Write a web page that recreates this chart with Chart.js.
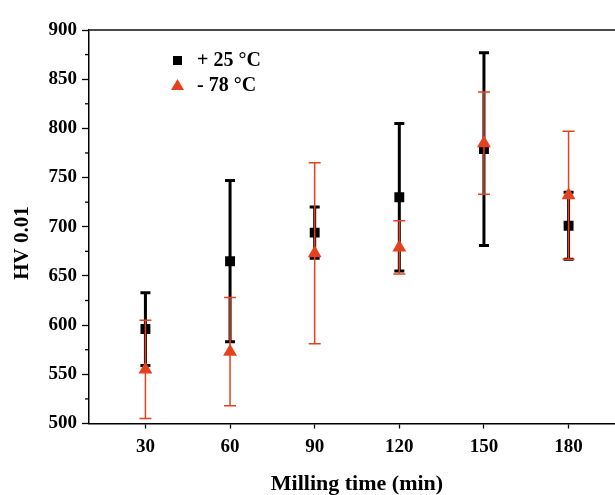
<!DOCTYPE html>
<html>
<head>
<meta charset="utf-8">
<script src="https://cdn.jsdelivr.net/npm/chart.js@4/dist/chart.umd.min.js"></script>
<style>
  html, body { margin: 0; padding: 0; background: #fff; overflow: hidden; }
  #wrap { width: 640px; height: 495px; }
</style>
</head>
<body>
<div id="wrap"><canvas id="chart" width="640" height="495"></canvas></div>
<script>
// values
const millingTimes = [30, 60, 90, 120, 150, 180];
const hv25 = [596, 665, 694, 730, 779, 701];
const err25 = [37, 82, 26, 75, 98, 34];
const hv78 = [555, 573, 673, 679, 785, 732];
const err78 = [50, 55, 92, 27, 52, 65];
const yTicks = [500, 550, 600, 650, 700, 750, 800, 850, 900];
const seriesLabels = ['+ 25 °C', '- 78 °C'];
const yTitle = 'HV 0.01';

const RED = '#e4421f';
const serif = "'Liberation Serif', 'Times New Roman', serif";

const toPoints = (xs, ys, es) => xs.map((x, i) => ({ x: x, y: ys[i], err: es[i] }));

// error bars drawn under each dataset's markers
const errorBars = {
  id: 'errorBars',
  beforeDatasetDraw(chart, args) {
    const ds = chart.data.datasets[args.index];
    const { ctx } = chart;
    const xs = chart.scales.x, ys = chart.scales.y;
    ctx.save();
    ctx.strokeStyle = ds.barColor;
    ctx.lineWidth = ds.barWidth;
    ds.data.forEach(p => {
      const px = xs.getPixelForValue(p.x);
      const top = ys.getPixelForValue(p.y + p.err);
      const bot = ys.getPixelForValue(p.y - p.err);
      ctx.beginPath();
      ctx.moveTo(px, top); ctx.lineTo(px, bot);
      ctx.moveTo(px - ds.capHalf, top); ctx.lineTo(px + ds.capHalf, top);
      ctx.moveTo(px - ds.capHalf, bot); ctx.lineTo(px + ds.capHalf, bot);
      ctx.stroke();
    });
    ctx.restore();
  }
};

// top frame line, minor y ticks, y title and the inside legend
const frame = {
  id: 'frame',
  afterDraw(chart) {
    const { ctx, chartArea: a } = chart;
    const ys = chart.scales.y;
    ctx.save();
    ctx.strokeStyle = '#4a4a4a';
    ctx.lineWidth = 2;
    ctx.beginPath();
    ctx.moveTo(a.left, a.top); ctx.lineTo(a.right, a.top);
    ctx.stroke();

    ctx.strokeStyle = '#000';
    ctx.lineWidth = 1.3;
    for (let v = 525; v < 900; v += 50) {
      const py = ys.getPixelForValue(v);
      ctx.beginPath();
      ctx.moveTo(a.left - 4, py); ctx.lineTo(a.left, py);
      ctx.stroke();
    }

    // y axis title, sits a bit below the middle in the original
    ctx.save();
    ctx.translate(23, 243);
    ctx.rotate(-Math.PI / 2);
    ctx.fillStyle = '#000';
    ctx.font = 'bold 21px ' + serif;
    ctx.textAlign = 'center';
    ctx.textBaseline = 'middle';
    ctx.fillText(yTitle, 0, 0);
    ctx.restore();

    // legend
    ctx.fillStyle = '#000';
    ctx.fillRect(173, 56, 9, 9);
    ctx.fillStyle = RED;
    ctx.beginPath();
    ctx.moveTo(177.5, 79); ctx.lineTo(184, 90); ctx.lineTo(171, 90);
    ctx.closePath(); ctx.fill();
    ctx.fillStyle = '#000';
    ctx.font = 'bold 20px ' + serif;
    ctx.textBaseline = 'middle';
    ctx.fillText(seriesLabels[0], 197, 61);
    ctx.fillText(seriesLabels[1], 197, 86);
    ctx.restore();
  }
};

new Chart(document.getElementById('chart'), {
  type: 'scatter',
  data: {
    datasets: [
      {
        label: seriesLabels[0],
        data: toPoints(millingTimes, hv25, err25),
        pointStyle: 'rect',
        pointRadius: 7,
        backgroundColor: '#000',
        borderColor: '#000',
        borderWidth: 0,
        barColor: '#000',
        barWidth: 3,
        capHalf: 5,
        order: 2
      },
      {
        label: seriesLabels[1],
        data: toPoints(millingTimes, hv78, err78),
        pointStyle: 'triangle',
        pointRadius: 8,
        backgroundColor: RED,
        borderColor: RED,
        borderWidth: 0,
        barColor: RED,
        barWidth: 1.5,
        capHalf: 6,
        order: 1
      }
    ]
  },
  options: {
    responsive: false,
    animation: false,
    layout: { padding: { top: 30, right: 15, left: 0, bottom: 0 } },
    plugins: {
      legend: { display: false },
      tooltip: { enabled: false }
    },
    scales: {
      x: {
        type: 'linear',
        min: 10,
        max: 200,
        afterBuildTicks: scale => { scale.ticks = millingTimes.map(v => ({ value: v })); },
        afterFit: scale => { scale.height = 71.5; },
        border: { color: '#000', width: 1.5 },
        grid: { drawOnChartArea: false, tickLength: 5, tickColor: '#000', tickWidth: 1.3 },
        ticks: { color: '#000', padding: 7, font: { family: serif, size: 19, weight: 'bold' } },
        title: {
          display: true,
          text: 'Milling time (min)',
          color: '#000',
          padding: { top: 0, bottom: 0 },
          font: { family: serif, size: 22, weight: 'bold', lineHeight: 1 }
        }
      },
      y: {
        min: 500,
        max: 900,
        afterBuildTicks: scale => { scale.ticks = yTicks.map(v => ({ value: v })); },
        afterFit: scale => { scale.width = 89; },
        border: { color: '#000', width: 1.5 },
        grid: { drawOnChartArea: false, tickLength: 7, tickColor: '#000', tickWidth: 1.3 },
        ticks: { color: '#000', padding: 5, font: { family: serif, size: 19, weight: 'bold' } }
      }
    }
  },
  plugins: [errorBars, frame]
});
</script>
</body>
</html>
